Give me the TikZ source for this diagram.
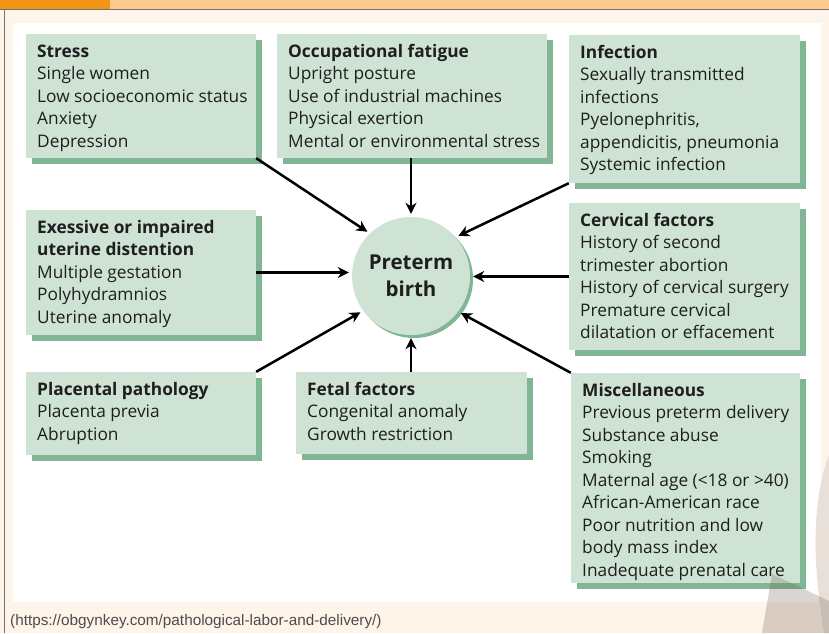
\documentclass[tikz,border=0pt]{standalone}
\usepackage{fontspec}
\setmainfont{Open Sans}
\newfontfamily\capfont{Liberation Sans}
\usetikzlibrary{arrows.meta,calc,fit}
\definecolor{boxfill}{HTML}{CEE3D4}
\definecolor{boxshade}{HTML}{80B693}
\definecolor{cream}{HTML}{FFF4EA}
\definecolor{orangeA}{HTML}{F39514}
\definecolor{orangeB}{HTML}{FCCA8C}
\definecolor{txtc}{HTML}{1E1E1E}
\definecolor{wmark}{HTML}{6B5B50}
\definecolor{wlight}{HTML}{E7DFD8}
\newcommand\riskbox[6]{%
  \fill[boxshade] (#2+6,#3+6) rectangle (#4+6,#5+6);
  \node[box, fit={(#2,#3) (#4,#5)}] (#1) {};
  \node[boxtext] (#1-t) at (#2+11,#3+23) {\begin{tabular}[t]{@{}l@{}}#6\end{tabular}};
}
\begin{document}
\begin{tikzpicture}[x=1pt,y=-1pt,
  box/.style={fill=boxfill, inner sep=0pt, draw=none},
  boxtext/.style={anchor=base west, inner sep=0pt, text=txtc,
    font=\fontsize{17.3}{22.5}\selectfont},
  arr/.style={-{Stealth[length=11pt,width=11pt,inset=3.5pt]}, line width=2.5pt, black, shorten >=3pt}]
\useasboundingbox (0,0) rectangle (829,633);
% background
\fill[cream] (0,0) rectangle (829,633);
\fill[orangeB] (0,0) rectangle (829,9);
\fill[orangeA] (0,0) rectangle (110,9);
\draw[black!55, line width=1.1pt] (0,9.5) -- (829,9.5);
\draw[black!55, line width=1.1pt] (4.5,9.5) -- (4.5,633);
\fill[white] (13,23) rectangle (821,602);
% boxes
\riskbox{stress}{26}{34}{256}{158}{\textbf{Stress}\\Single women\\Low socioeconomic status\\Anxiety\\Depression}
\riskbox{occ}{277}{34}{547}{158}{\textbf{Occupational fatigue}\\Upright posture\\Use of industrial machines\\Physical exertion\\Mental or environmental stress}
\riskbox{inf}{569}{35}{800}{183}{\textbf{Infection}\\Sexually transmitted\\infections\\Pyelonephritis,\\appendicitis, pneumonia\\Systemic infection}
\riskbox{exc}{26}{210}{256}{335}{\textbf{Exessive or impaired}\\\textbf{uterine distention}\\Multiple gestation\\Polyhydramnios\\Uterine anomaly}
\riskbox{cerv}{569}{203}{800}{350}{\textbf{Cervical factors}\\History of second\\trimester abortion\\History of cervical surgery\\Premature cervical\\dilatation or effacement}
\riskbox{plac}{26}{372}{256}{455}{\textbf{Placental pathology}\\Placenta previa\\Abruption}
\riskbox{fetal}{296}{372}{527}{454}{\textbf{Fetal factors}\\Congenital anomaly\\Growth restriction}
\riskbox{misc}{571}{373}{800}{583}{\textbf{Miscellaneous}\\Previous preterm delivery\\Substance abuse\\Smoking\\Maternal age (<18 or >40)\\African-American race\\Poor nutrition and low\\body mass index\\Inadequate prenatal care}
% centre
\fill[boxshade] (414,279) circle (59);
\node[circle, fill=boxfill, minimum size=118pt, inner sep=0pt, align=center, text=txtc,
  font=\bfseries\fontsize{20.5}{27}\selectfont] (pb) at (411,276) {Preterm\\birth};
% arrows
\draw[arr] (stress.south east) -- (pb.134);
\draw[arr] (occ.south -| pb.north) -- (pb.north);
\draw[arr] (inf.south west) -- (pb.41);
\draw[arr] (exc.east) -- (exc.east -| pb.west);
\draw[arr] (cerv.west) -- (cerv.west -| pb.east);
\draw[arr] (plac.north east) -- (pb.216);
\draw[arr] (fetal.north -| pb.south) -- (pb.south);
\draw[arr] (misc.north west) -- (pb.323);
% watermark shapes
\fill[wlight] (829,455) .. controls (812,500) and (812,560) .. (824,633) -- (829,633) -- cycle;
\fill[wmark, opacity=0.25] (772,574) -- (829,601) -- (829,633) -- (762,633) -- cycle;
% caption
\node[anchor=base west, inner sep=0pt, text=black!70, font=\capfont\fontsize{15.3}{17}\selectfont] (cap) at (10,625) {(https://obgynkey.com/pathological-labor-and-delivery/)};
\end{tikzpicture}
\end{document}
